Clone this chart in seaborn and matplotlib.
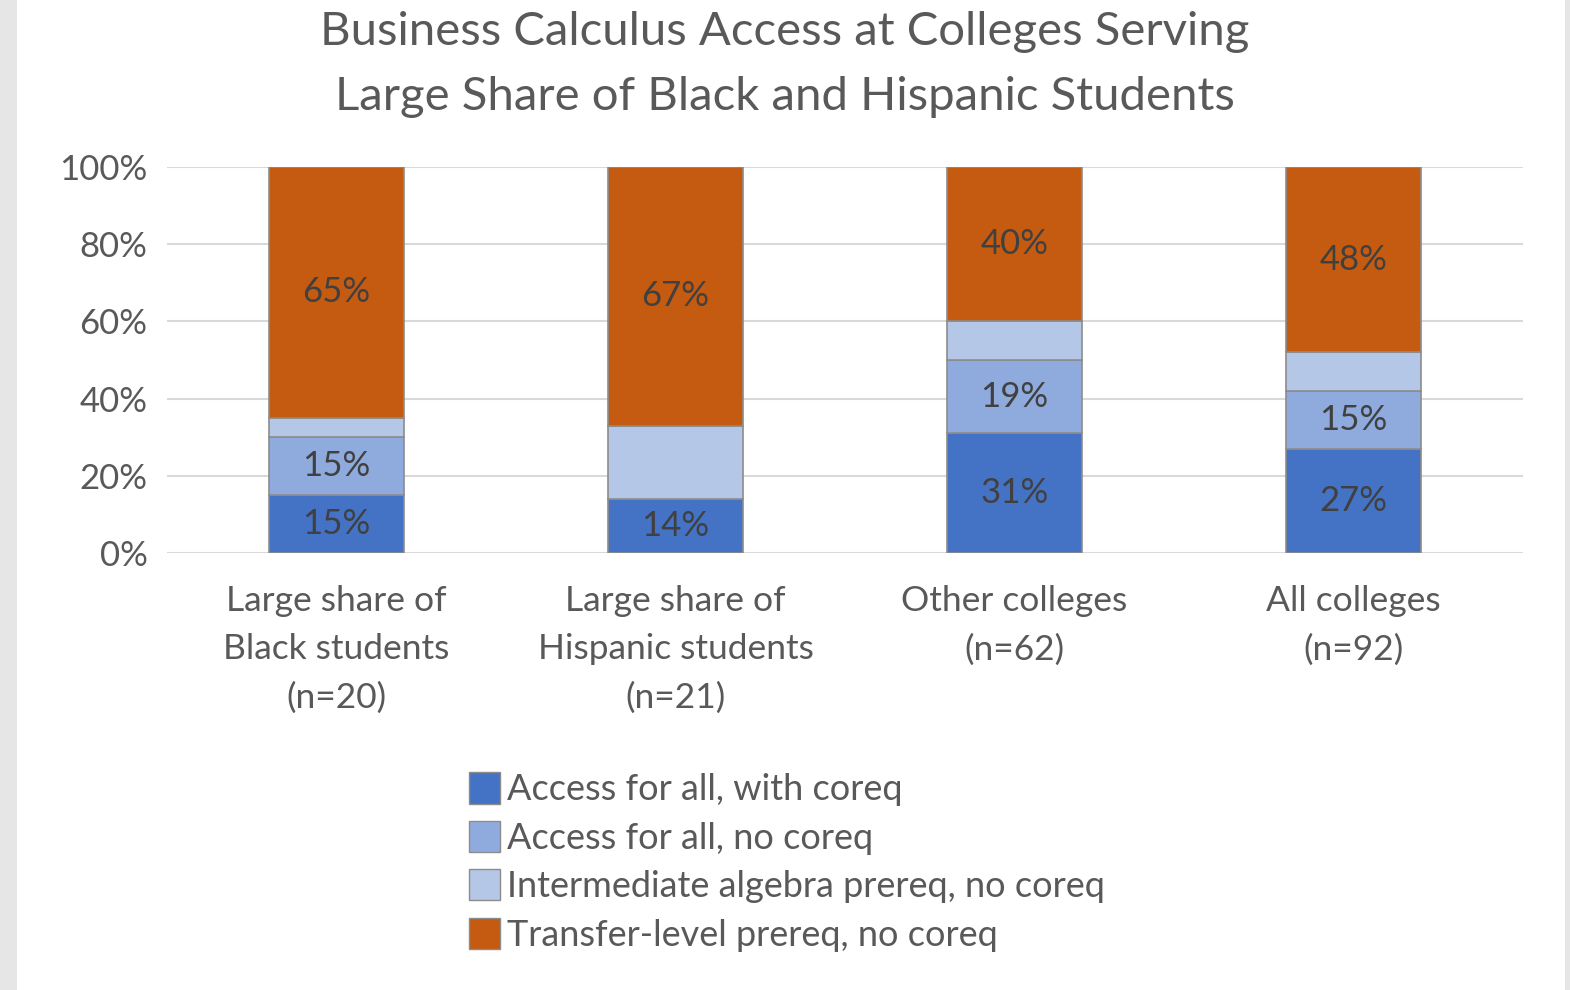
import matplotlib
matplotlib.use('Agg')
import matplotlib.pyplot as plt
import matplotlib.patches as mpatches
import numpy as np
import seaborn as sns

categories = ['Large share of\nBlack students\n(n=20)',
              'Large share of\nHispanic students\n(n=21)',
              'Other colleges\n(n=62)',
              'All colleges\n(n=92)']
series = ['Access for all, with coreq',
          'Access for all, no coreq',
          'Intermediate algebra prereq, no coreq',
          'Transfer-level prereq, no coreq']
with_coreq = [15, 14, 31, 27]
no_coreq = [15, 0, 19, 15]
int_algebra = [5, 19, 10, 10]
transfer = [65, 67, 40, 48]
colors = ['#4472C4', '#8FAADC', '#B4C7E7', '#C55A11']
show_label = [True, True, False, True]

sns.set_theme(style='white')
plt.rcParams['font.family'] = ['Lato', 'DejaVu Sans']

fig = plt.figure(figsize=(15.7, 9.9), dpi=100)
fig.patch.set_facecolor('white')
fig.patches.append(mpatches.Rectangle((0, 0), 17/1570, 1, transform=fig.transFigure,
                                      facecolor='#e6e6e6', edgecolor='none', zorder=0))
fig.patches.append(mpatches.Rectangle((1565/1570, 0), 5/1570, 1, transform=fig.transFigure,
                                      facecolor='#e6e6e6', edgecolor='none', zorder=0))

ax = fig.add_axes([167/1570, 1-553/990, (1523-167)/1570, (553-167)/990])

bottom = np.zeros(len(categories))
for name, vals, col, lab in zip(series, [with_coreq, no_coreq, int_algebra, transfer], colors, show_label):
    vals = np.array(vals, dtype=float)
    sns.barplot(x=categories, y=vals / 100, bottom=bottom / 100, color=col, width=0.4,
                errorbar=None, edgecolor='#8c8c8c', linewidth=1.2, saturation=1, ax=ax, zorder=3)
    if lab:
        for i, v in enumerate(vals):
            if v > 0:
                ax.text(i, (bottom[i] + v / 2) / 100, f'{v:.0f}%', ha='center', va='center',
                        fontsize=25, color='#404040', zorder=5)
    bottom += vals

ax.set_ylim(0, 1)
ax.set_xlim(-0.5, 3.5)
ax.set_yticks(np.arange(0, 1.01, 0.2))
ax.set_yticklabels([f'{int(t*100)}%' for t in np.arange(0, 1.01, 0.2)])
ax.yaxis.grid(True, color='#d9d9d9', linewidth=1.5, zorder=0)
ax.set_axisbelow(True)
for s in ax.spines.values():
    s.set_visible(False)
ax.tick_params(axis='y', labelsize=25, labelcolor='#595959', pad=14, length=0)
ax.tick_params(axis='x', labelsize=25.5, labelcolor='#595959', pad=23, length=0)
for t in ax.get_xticklabels():
    t.set_linespacing(1.63)
ax.set_xlabel('')
ax.set_ylabel('')

fig.text(785/1570, 1-32/990, 'Business Calculus Access at Colleges Serving',
         ha='center', va='center', fontsize=34, color='#595959')
fig.text(785/1570, 1-97/990, 'Large Share of Black and Hispanic Students',
         ha='center', va='center', fontsize=34, color='#595959')

handles = [mpatches.Patch(facecolor=c, edgecolor='#8c8c8c', label=s) for s, c in zip(series, colors)]
fig.legend(handles=handles, loc='upper left', bbox_to_anchor=(455/1570, 1-758/990),
           frameon=False, fontsize=26, labelcolor='#595959', handlelength=0.85,
           handleheight=0.95, handletextpad=0.2, labelspacing=0.4, borderaxespad=0)

fig.savefig('out.png', dpi=100, facecolor='white')
